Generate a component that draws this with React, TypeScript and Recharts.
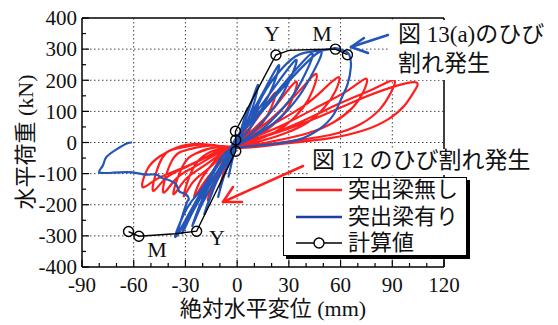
import React from "react";
import {
  ComposedChart,
  Line,
  XAxis,
  YAxis,
  CartesianGrid,
  ReferenceLine,
  Legend,
} from "recharts";

type Pt = [number, number];

const xTicks = [-90, -80, -70, -60, -50, -40, -30, -20, -10, 0, 10, 20, 30, 40, 50, 60, 70, 80, 90, 100, 110, 120];
const yTicks = [-400, -350, -300, -250, -200, -150, -100, -50, 0, 50, 100, 150, 200, 250, 300, 350, 400];
const xGrid = [-60, -30, 0, 30, 60, 90];
const yGrid = [-300, -200, -100, 0, 100, 200, 300];

// 突出梁無し (red) – one cycle = positive leaf + negative leaf
const redCycle1: Pt[] = [[0, 0], [4, 35], [8, 75], [12, 115], [10, 75], [7, 40], [3, 12], [0, -5], [-4, -40], [-7, -90], [-10, -145], [-8, -100], [-5, -55], [-2, -20], [0, 0]];
const redCycle2: Pt[] = [[7, 45], [15, 105], [22, 160], [20, 115], [15, 65], [8, 25], [0, -5], [-6, -45], [-12, -115], [-17, -185], [-14, -130], [-9, -75], [-4, -30], [0, -2]];
const redCycle3: Pt[] = [[10, 45], [22, 115], [34, 195], [32, 140], [26, 85], [16, 35], [6, 5], [0, -8], [-8, -30], [-16, -80], [-22, -130], [-25, -178], [-20, -135], [-13, -85], [-6, -40], [0, -2]];
const redCycle4: Pt[] = [[14, 50], [30, 130], [40, 190], [46, 220], [44, 170], [38, 110], [28, 55], [16, 18], [5, -2], [0, -10], [-10, -20], [-20, -45], [-27, -100], [-31, -172], [-26, -130], [-18, -90], [-9, -45], [0, -5]];
const redCycle5: Pt[] = [[18, 50], [38, 115], [50, 170], [59, 210], [57, 165], [51, 115], [41, 65], [27, 28], [12, 2], [0, -12], [-12, -15], [-24, -35], [-32, -80], [-37, -165], [-31, -125], [-22, -85], [-11, -42], [0, -5]];
const redCycle6: Pt[] = [[24, 50], [48, 118], [65, 170], [75, 205], [73, 160], [67, 112], [56, 65], [40, 28], [20, 3], [0, -14], [-15, -10], [-28, -22], [-38, -60], [-43, -158], [-36, -120], [-26, -82], [-13, -40], [0, -8]];
const redCycle7: Pt[] = [[30, 50], [58, 122], [79, 172], [91, 200], [89, 158], [83, 108], [72, 60], [54, 24], [28, 2], [0, -16], [-18, -6], [-34, -18], [-44, -55], [-49, -152], [-42, -118], [-30, -80], [-15, -40], [0, -8]];
const redCycle8: Pt[] = [[35, 55], [68, 132], [90, 178], [104, 193], [102, 158], [97, 118], [88, 76], [74, 40], [54, 14], [28, -3], [0, -18], [-20, -5], [-35, -16], [-45, -45], [-52, -85], [-55, -142], [-48, -122], [-36, -92], [-22, -58], [-10, -25], [0, -8]];

// 突出梁有り (blue)
const blueCycle1: Pt[] = [[0, 0], [3, 55], [6, 110], [4, 60], [1, 15], [-1, -10], [-3, -60], [-5, -110], [-3, -60], [0, 0]];
const blueCycle2: Pt[] = [[4, 60], [8, 125], [12, 185], [10, 130], [6, 70], [2, 15], [0, -5], [-4, -55], [-8, -115], [-11, -175], [-8, -115], [-4, -50], [0, 5]];
const blueCycle3: Pt[] = [[6, 70], [14, 150], [24, 248], [21, 185], [15, 115], [8, 50], [0, -5], [-6, -60], [-13, -140], [-19, -230], [-15, -165], [-9, -95], [-3, -30], [0, 10]];
const blueCycle4: Pt[] = [[8, 75], [20, 165], [34, 265], [30, 195], [23, 125], [13, 55], [3, 5], [-4, -25], [-12, -100], [-20, -180], [-26, -268], [-21, -205], [-13, -125], [-5, -45], [0, 15]];
const blueCycle5: Pt[] = [[10, 80], [25, 175], [43, 285], [39, 215], [31, 140], [19, 65], [6, 10], [-6, -30], [-15, -110], [-25, -200], [-32, -292], [-26, -225], [-17, -140], [-7, -55], [0, 15]];
const blueCycle6: Pt[] = [[12, 85], [28, 185], [48, 292], [44, 225], [36, 150], [24, 75], [10, 20], [-2, -15], [-10, -55], [-20, -145], [-29, -210], [-36, -302], [-30, -250], [-21, -170], [-10, -80], [0, 20]];
const blueCycle7: Pt[] = [[7, 64], [14.5, 148], [24, 225], [34, 277], [43, 292], [53, 299], [57, 303], [62, 295], [65, 283], [66, 244], [64, 186], [61, 148], [56, 90], [47.5, 42], [36, 10], [19, -6], [1, -16], [-8, -40], [-16, -110], [-24, -190], [-30, -250], [-35, -300], [-32, -240], [-29, -190], [-28, -183], [-29.6, -167], [-33.6, -157], [-35.4, -135], [-40.6, -119], [-44, -113], [-47, -103], [-53, -103], [-61, -96], [-72, -97], [-80, -96], [-78, -75], [-76, -48], [-70, -22], [-64, -3], [-61, 0]];

// 計算値 (black), mark = drawn with a circle
const calcX = [-63, -57, -36, -23.5, -0.8, -0.8, -1, 22.5, 30, 45, 57, 64];
const calcY = [-286, -301, -293, -285, -28, 8, 36, 281, 296, 299, 300, 282];
const calcMarked = [true, true, false, true, true, true, true, true, false, false, true, true];

const toPoints = (pts: Pt[]) => pts.map(([x, y]) => ({ x, y }));
const redData = toPoints([...redCycle1, ...redCycle2, ...redCycle3, ...redCycle4, ...redCycle5, ...redCycle6, ...redCycle7, ...redCycle8]);
const blueData = toPoints([...blueCycle1, ...blueCycle2, ...blueCycle3, ...blueCycle4, ...blueCycle5, ...blueCycle6, ...blueCycle7]);
const calcData = calcX.map((x, i) => ({ x, y: calcY[i], mark: calcMarked[i] }));

const RED = "#ff1f1f";
const BLUE = "#2356b8";
const SERIF = "'Liberation Serif', 'Times New Roman', serif";
const JP = "'Liberation Serif', 'Noto Sans CJK JP', sans-serif";

const legendItems = [
  { label: "突出梁無し", color: RED, circle: false },
  { label: "突出梁有り", color: "#1d3f9e", circle: false },
  { label: "計算値", color: "#000", circle: true },
];

const XTick = (props: any) => {
  const { x, y, payload } = props;
  const major = payload.value % 30 === 0;
  return (
    <g>
      <line x1={x} x2={x} y1={y} y2={y - (major ? 7 : 4)} stroke="#000" strokeWidth={1.2} />
      {major && (
        <text x={x} y={y + 25} textAnchor="middle" fontFamily={SERIF} fontSize={21} fill="#111">
          {payload.value}
        </text>
      )}
    </g>
  );
};

const YTick = (props: any) => {
  const { x, y, payload } = props;
  const major = payload.value % 100 === 0;
  return (
    <g>
      <line x1={x} x2={x + (major ? 7 : 4)} y1={y} y2={y} stroke="#000" strokeWidth={1.2} />
      {major && (
        <text x={x - 5} y={y} dy="0.35em" textAnchor="end" fontFamily={SERIF} fontSize={21} fill="#111">
          {payload.value}
        </text>
      )}
    </g>
  );
};

const CalcDot = (props: any) => {
  const { cx, cy, payload, index } = props;
  if (!payload.mark) return <g key={`d${index}`} />;
  return <circle key={`d${index}`} cx={cx} cy={cy} r={5} fill="none" stroke="#000" strokeWidth={1.4} />;
};

const CustomLegend = () => (
  <div
    style={{
      width: 184,
      height: 79,
      background: "#fff",
      border: "1.5px solid #000",
      boxShadow: "3px 3px 0 #000",
      boxSizing: "border-box",
      position: "relative",
      fontFamily: JP,
      fontSize: 22,
      color: "#111",
    }}
  >
    {legendItems.map((it, i) => (
      <div
        key={it.label}
        style={{ position: "absolute", left: 12, top: i * 26.5 - 1, height: 26, display: "flex", alignItems: "center" }}
      >
        <svg width={46} height={14}>
          <line x1={0} x2={46} y1={7} y2={7} stroke={it.color} strokeWidth={it.circle ? 1.4 : 2.5} />
          {it.circle && <circle cx={23} cy={7} r={5} fill="#fff" stroke="#000" strokeWidth={1.4} />}
        </svg>
        <span style={{ marginLeft: 6, lineHeight: "26px", whiteSpace: "nowrap" }}>{it.label}</span>
      </div>
    ))}
  </div>
);

export default function App() {
  return (
    <div style={{ position: "absolute", left: 0, top: 0, width: 558, height: 325, background: "#fff" }}>
      <ComposedChart width={558} height={325} margin={{ top: 18, right: 114, bottom: 28, left: 32 }}>
        <CartesianGrid
          horizontalValues={yGrid}
          verticalValues={xGrid}
          stroke="#444"
          strokeDasharray="1.5 2.5"
        />
        <XAxis
          type="number"
          dataKey="x"
          domain={[-90, 120]}
          ticks={xTicks}
          interval={0}
          allowDataOverflow
          height={30}
          tickSize={0}
          tickMargin={0}
          tickLine={false}
          tick={<XTick />}
          axisLine={{ stroke: "#000", strokeWidth: 1.5 }}
        />
        <YAxis
          type="number"
          dataKey="y"
          domain={[-400, 400]}
          ticks={yTicks}
          interval={0}
          allowDataOverflow
          width={50}
          tickSize={0}
          tickMargin={0}
          tickLine={false}
          tick={<YTick />}
          axisLine={{ stroke: "#000", strokeWidth: 1.5 }}
        />
        <ReferenceLine y={400} stroke="#000" strokeWidth={1.5} ifOverflow="visible" />
        <ReferenceLine x={120} stroke="#000" strokeWidth={1.5} ifOverflow="visible" />
        <Line data={redData} dataKey="y" type="natural" stroke={RED} strokeWidth={2.2} dot={false} isAnimationActive={false} />
        <Line data={blueData} dataKey="y" type="natural" stroke={BLUE} strokeWidth={2.2} dot={false} isAnimationActive={false} />
        <Line data={calcData} dataKey="y" type="linear" stroke="#000" strokeWidth={1.4} dot={<CalcDot />} isAnimationActive={false} />
        <Legend
          layout="vertical"
          align="center"
          verticalAlign="middle"
          content={<CustomLegend />}
          wrapperStyle={{ left: 283, top: 177, width: 190, height: 84 }}
        />
      </ComposedChart>

      <svg width={558} height={325} style={{ position: "absolute", left: 0, top: 0, pointerEvents: "none" }}>
        <rect x={390} y={20} width={168} height={60} fill="#fff" />
        <text x={398} y={42} fontFamily={JP} fontSize={23} fill="#111">図 13(a)のひび</text>
        <text x={398} y={71} fontFamily={JP} fontSize={23} fill="#111">割れ発生</text>
        <rect x={308} y={149} width={232} height={26} fill="#fff" />
        <text x={312} y={168} fontFamily={JP} fontSize={23} fill="#111">図 12 のひび割れ発生</text>

        <g stroke={BLUE} strokeWidth={2.5} fill="none" strokeLinecap="round">
          <line x1={388} y1={35} x2={351} y2={47} />
          <line x1={351} y1={47} x2={364} y2={38} />
          <line x1={351} y1={47} x2={368} y2={53} />
        </g>
        <g stroke={RED} strokeWidth={2.5} fill="none" strokeLinecap="round">
          <line x1={303} y1={166} x2={223} y2={202} />
          <line x1={223} y1={202} x2={233} y2={187} />
          <line x1={223} y1={202} x2={242} y2={202} />
        </g>

        <g fontFamily={SERIF} fontSize={22} fill="#111" textAnchor="middle">
          <text x={272} y={41}>Y</text>
          <text x={322} y={41}>M</text>
          <text x={217} y={245}>Y</text>
          <text x={157} y={257}>M</text>
        </g>

        <text
          x={25}
          y={142}
          transform="rotate(-90 25 142)"
          textAnchor="middle"
          dy="0.35em"
          fontFamily={JP}
          fontSize={22}
          fill="#111"
        >
          水平荷重 (kN)
        </text>
        <text x={273} y={316} textAnchor="middle" fontFamily={JP} fontSize={22} fill="#111">
          絶対水平変位 (mm)
        </text>
      </svg>
    </div>
  );
}
